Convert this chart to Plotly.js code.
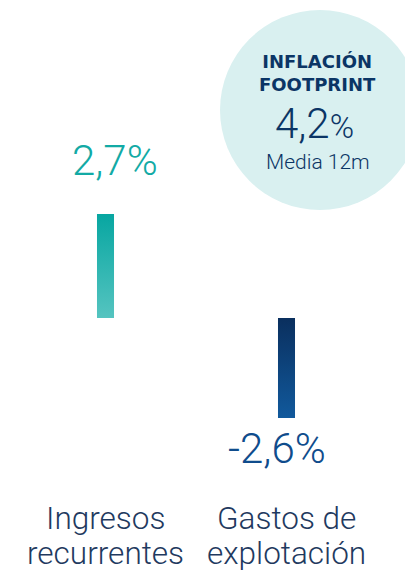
<!DOCTYPE html>
<html><head><meta charset="utf-8">
<script src="https://cdn.plot.ly/plotly-3.0.1.min.js"></script>
<style>html,body{margin:0;padding:0;background:#fff}</style>
</head><body>
<div id="chart" style="width:405px;height:572px"></div>
<script>
const categories = ["Ingresos<br>recurrentes", "Gastos de<br>explotación"];
const values = [2.7, -2.6];
const inflationValue = 4.2;
const inflationTitle = "INFLACIÓN<br>FOOTPRINT";
const inflationNote = "Media 12m";

const fmt = v => v.toFixed(1).replace('.', ',') + '%';
const barColors = ['#27b3ae', '#0d4680'];
const labelColors = ['#12aaa5', '#0f4c8c'];

const trace = {
  type: 'bar', x: [0, 1], y: values, width: 0.094,
  marker: {color: barColors, line: {width: 0}},
  hoverinfo: 'none'
};

const annotations = values.map((v, i) => ({
  x: i + (v > 0 ? 0.055 : -0.05), y: v, xref: 'x', yref: 'y',
  xanchor: 'center', yanchor: 'middle',
  text: fmt(v), showarrow: false,
  yshift: v > 0 ? 54 : -30,
  font: {family: 'Roboto', weight: 300, size: 42, color: labelColors[i]}
}));
const catLineCenters = [518, 553];
categories.forEach((c, i) => c.split('<br>').forEach((line, k) => annotations.push({
  x: i, y: 1 - catLineCenters[k] / 572, xref: 'x', yref: 'paper', xanchor: 'center', yanchor: 'middle',
  text: line, showarrow: false, align: 'center',
  font: {family: 'Roboto', weight: 300, size: 31.5, color: '#1f3a60'}
})));
const circ = (px, py) => ({x: (px - 15) / 362, y: 1 - py / 572});
annotations.push(Object.assign(circ(317, 73), {
  xref: 'paper', yref: 'paper', xanchor: 'center', yanchor: 'middle',
  text: '<b>' + inflationTitle + '</b>', showarrow: false,
  font: {family: 'DejaVu Sans', size: 18, color: '#0b3565'}
}));
annotations.push(Object.assign(circ(314, 124), {
  xref: 'paper', yref: 'paper', xanchor: 'center', yanchor: 'middle',
  text: inflationValue.toFixed(1).replace('.', ',') + "<span style='font-size:33px'>%</span>",
  showarrow: false,
  font: {family: 'Roboto', weight: 300, size: 42, color: '#0b3565'}
}));
annotations.push(Object.assign(circ(318, 162), {
  xref: 'paper', yref: 'paper', xanchor: 'center', yanchor: 'middle',
  text: inflationNote, showarrow: false,
  font: {family: 'Roboto', weight: 300, size: 21, color: '#0b3565'}
}));

const layout = {
  width: 405, height: 572,
  margin: {l: 15, r: 28, t: 0, b: 0},
  paper_bgcolor: '#fff', plot_bgcolor: 'rgba(0,0,0,0)',
  showlegend: false,
  xaxis: {range: [-0.5, 1.5], visible: false, fixedrange: true},
  yaxis: {range: [-6.60, 8.26], visible: false, fixedrange: true, zeroline: false},
  shapes: [{
    type: 'circle', xref: 'paper', yref: 'paper', layer: 'below',
    xsizemode: 'pixel', ysizemode: 'pixel',
    xanchor: (320 - 15) / 362, yanchor: 1 - 110 / 572,
    x0: -100, x1: 100, y0: -100, y1: 100,
    fillcolor: '#d9f0f0', line: {width: 0}
  }],
  annotations: annotations
};

Plotly.newPlot('chart', [trace], layout, {staticPlot: true}).then(() => {
  const svg = document.querySelector('#chart .main-svg');
  const ns = 'http://www.w3.org/2000/svg';
  let defs = svg.querySelector('defs');
  if (!defs) { defs = document.createElementNS(ns, 'defs'); svg.insertBefore(defs, svg.firstChild); }
  const grads = [['gTeal', '#07a6a1', '#55c4c0'], ['gNavy', '#0a2f5e', '#11599c']];
  grads.forEach(([id, c1, c2]) => {
    const g = document.createElementNS(ns, 'linearGradient');
    g.setAttribute('id', id); g.setAttribute('x1', '0'); g.setAttribute('y1', '0');
    g.setAttribute('x2', '0'); g.setAttribute('y2', '1');
    [[0, c1], [1, c2]].forEach(([o, c]) => {
      const s = document.createElementNS(ns, 'stop');
      s.setAttribute('offset', o); s.setAttribute('stop-color', c);
      g.appendChild(s);
    });
    defs.appendChild(g);
  });
  document.querySelectorAll('#chart .bars .point path').forEach((p, i) => {
    p.style.fill = 'url(#' + grads[i][0] + ')';
  });
});
</script>
</body></html>
